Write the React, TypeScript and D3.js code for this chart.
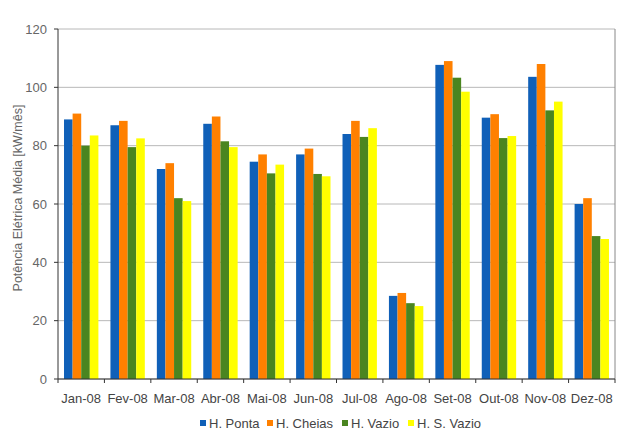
import React from "react";
import * as d3 from "d3";

const categories = ["Jan-08","Fev-08","Mar-08","Abr-08","Mai-08","Jun-08","Jul-08","Ago-08","Set-08","Out-08","Nov-08","Dez-08"];
const seriesNames = ["H. Ponta","H. Cheias","H. Vazio","H. S. Vazio"];
const hPonta = [89, 87, 72, 87.5, 74.5, 77, 84, 28.5, 107.7, 89.6, 103.6, 60];
const hCheias = [91, 88.5, 74, 90, 77, 79, 88.5, 29.5, 109, 90.8, 108, 62];
const hVazio = [80, 79.5, 62, 81.5, 70.5, 70.3, 83, 26, 103.3, 82.6, 92.1, 49];
const hSVazio = [83.5, 82.5, 61, 79.5, 73.5, 69.5, 86, 25, 98.5, 83.3, 95.1, 48];
const yTicks = [0, 20, 40, 60, 80, 100, 120];
const colors = ["#1060B8", "#FF8000", "#4A8520", "#FFFF00"];

const W = 631, H = 442;
const left = 58, right = 615, top = 29, bottom = 379;

export default function App() {
  const series = [hPonta, hCheias, hVazio, hSVazio];
  const x = d3.scaleBand<string>().domain(categories).range([left, right]).paddingInner(0).paddingOuter(0);
  const inner = d3.scaleBand<number>().domain([0, 1, 2, 3]).range([0, x.bandwidth()]).paddingOuter(0.7).paddingInner(0);
  const y = d3.scaleLinear().domain([0, 120]).range([bottom, top]);
  const font = "'Liberation Sans', Arial, sans-serif";
  const legendX = [200, 267, 342, 408];
  return (
    <svg width={W} height={H} style={{ position: "absolute", left: 0, top: 0, background: "#fff" }} fontFamily={font}>
      <rect x={0} y={0} width={W} height={H} fill="#fff" />
      {yTicks.map((t) => (
        <line key={"g" + t} x1={left} x2={right} y1={y(t)} y2={y(t)} stroke="#b8b8b8" strokeWidth={1} />
      ))}
      <line x1={right} x2={right} y1={top} y2={bottom} stroke="#888" strokeWidth={1} />
      {series.map((vals, si) =>
        categories.map((c, ci) => (
          <rect key={si + "-" + ci} x={(x(c) as number) + (inner(si) as number)} y={y(vals[ci])}
            width={inner.bandwidth()} height={bottom - y(vals[ci])} fill={colors[si]} />
        ))
      )}
      <line x1={left} x2={left} y1={top} y2={bottom} stroke="#333" strokeWidth={1} />
      <line x1={left} x2={right} y1={bottom} y2={bottom} stroke="#333" strokeWidth={1} />
      {yTicks.map((t) => (
        <g key={"t" + t}>
          <line x1={left - 4} x2={left} y1={y(t)} y2={y(t)} stroke="#333" />
          <text x={left - 11} y={y(t)} dy="0.35em" textAnchor="end" fontSize={13} fill="#666">{t}</text>
        </g>
      ))}
      {categories.map((c, i) => (
        <line key={"xt" + i} x1={x(c) as number} x2={x(c) as number} y1={bottom} y2={bottom + 4} stroke="#333" />
      ))}
      <line x1={right} x2={right} y1={bottom} y2={bottom + 4} stroke="#333" />
      {categories.map((c) => (
        <text key={"xl" + c} x={(x(c) as number) + x.bandwidth() / 2} y={398} dy="0.35em" textAnchor="middle" fontSize={13} fill="#444">{c}</text>
      ))}
      <text transform={`translate(18, 198) rotate(-90)`} textAnchor="middle" dy="0.35em" fontSize={12.5} fill="#666">Potência Elétrica Média [kW/mês]</text>
      {seriesNames.map((n, i) => (
        <g key={"lg" + n}>
          <rect x={legendX[i]} y={420} width={6} height={6} fill={colors[i]} />
          <text x={legendX[i] + 9} y={423} dy="0.35em" fontSize={13} fill="#444">{n}</text>
        </g>
      ))}
    </svg>
  );
}
